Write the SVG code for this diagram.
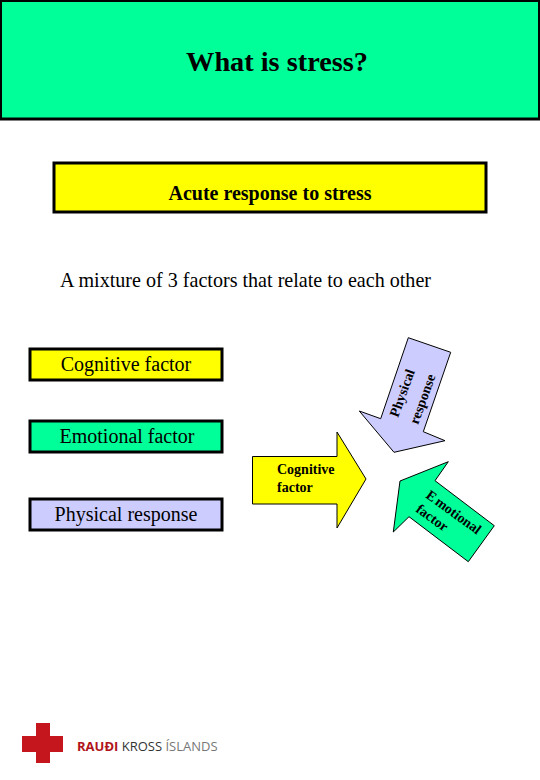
<svg xmlns="http://www.w3.org/2000/svg" width="540" height="780" viewBox="0 0 540 780">
<style>
.box{stroke:#000;stroke-width:3}
.arrow{stroke:#000;stroke-width:1}
text{font-family:"Liberation Serif","Times New Roman",serif;fill:#000}
.lab{font-size:20px;text-anchor:middle}
.ar{font-size:14px;font-weight:bold}
</style>
<rect width="540" height="780" fill="#fff"/>
<g id="title"><rect class="box" x="0.5" y="0.5" width="539" height="118.500" fill="#00ff99"/><text x="277" y="71" font-size="28.300" font-weight="bold" text-anchor="middle">What is stress?</text></g>
<g id="subtitle"><rect class="box" x="54" y="163" width="432" height="49" fill="#ffff00"/><text x="270" y="200" font-size="20" font-weight="bold" text-anchor="middle">Acute response to stress</text></g>
<text x="60" y="287" font-size="20.100">A mixture of 3 factors that relate to each other</text>
<g id="cognitive"><rect class="box" x="30" y="349" width="192" height="31" fill="#ffff00"/><text class="lab" x="126" y="371">Cognitive factor</text></g>
<g id="emotional"><rect class="box" x="30" y="421" width="192" height="31" fill="#00ff99"/><text class="lab" x="127" y="443">Emotional factor</text></g>
<g id="physical"><rect class="box" x="30" y="499" width="192" height="31" fill="#ccccff"/><text class="lab" x="126" y="521">Physical response</text></g>
<g id="connectors">
<path class="arrow" fill="#ccccff" d="M408.300 337.700L450.700 352.300L423.300 431.700L445 440.700L394 452.300L359.300 411L380.700 418.700Z"/>
<path class="arrow" fill="#ffff00" d="M252.500 456.500H337V432L366 479L337 528V504H252.500Z"/>
<path class="arrow" fill="#00ff99" d="M448.300 461.700L435 480.700L494.300 525.700L468.300 561.700L409 516.700L393.300 532L400 481Z"/>
</g>
<text class="ar" transform="translate(398 418) rotate(-70)">Physical</text>
<text class="ar" transform="translate(418 425) rotate(-70)">response</text>
<text class="ar" x="277" y="474">Cognitive</text>
<text class="ar" x="277" y="492">factor</text>
<text class="ar" transform="translate(425 497) rotate(36)">E<tspan dx="2">motional</tspan></text>
<text class="ar" transform="translate(415 511) rotate(36)">factor</text>
<g id="logo">
<path fill="#c4161c" d="M36 723H50V736H63V752H50V763H36V752H22V736H36Z"/>
<text x="77" y="751" font-size="13" style="font-family:'Open Sans',sans-serif"><tspan font-weight="bold" fill="#b0141c">RAUÐI</tspan><tspan fill="#333"> KROSS </tspan><tspan fill="#777">ÍSLANDS</tspan></text>
</g>
</svg>
